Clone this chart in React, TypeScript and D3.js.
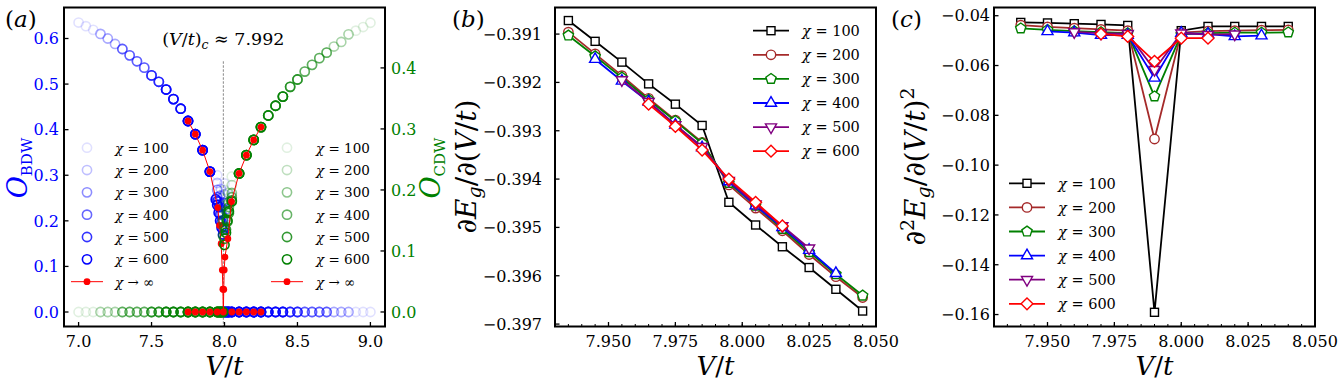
import * as d3 from "d3";

const FONT = "'DejaVu Serif', serif";
const W = 1341;
const H = 387;
const TOP = 7.5;
const BOTTOM = 326.5;

// ---------- panel (a): order parameters ----------
const chiValues = [100, 200, 300, 400, 500, 600];
const chiAlpha = [0.12, 0.25, 0.45, 0.6, 0.8, 1.0];
const chiVMin = [7.0, 7.15, 7.3, 7.5, 7.6, 7.75];
const chiVMax = [9.0, 8.85, 8.7, 8.5, 8.4, 8.25];

const vLeft = [7.0, 7.05, 7.1, 7.15, 7.2, 7.25, 7.3, 7.35, 7.4, 7.45, 7.5, 7.55, 7.6, 7.65, 7.7, 7.75, 7.8, 7.85, 7.9];
const vRight = [8.1, 8.15, 8.2, 8.25, 8.3, 8.35, 8.4, 8.45, 8.5, 8.55, 8.6, 8.65, 8.7, 8.75, 8.8, 8.85, 8.9, 8.95, 9.0];
const bdwVal = [0.635, 0.627, 0.619, 0.61, 0.6, 0.588, 0.577, 0.563, 0.55, 0.536, 0.519, 0.505, 0.488, 0.467, 0.446, 0.419, 0.39, 0.355, 0.308];
const cdwVal = [0.227, 0.257, 0.282, 0.303, 0.322, 0.338, 0.353, 0.369, 0.381, 0.394, 0.405, 0.416, 0.425, 0.435, 0.4425, 0.455, 0.461, 0.467, 0.474];

// points close to the transition, one list per chi
const bdwNearV = [
  [7.95, 8.0, 8.05],
  [7.95, 7.975, 8.0, 8.025, 8.05],
  [7.95, 7.97, 7.99, 8.01, 8.03, 8.05],
  [7.95, 7.96, 7.97, 7.98, 7.99, 8.0, 8.01, 8.03, 8.05],
  [7.95, 7.96, 7.97, 7.98, 7.99, 8.0, 8.01, 8.02, 8.03, 8.05],
  [7.94, 7.95, 7.96, 7.97, 7.98, 7.99, 8.0, 8.01, 8.02, 8.03, 8.05],
];
const bdwNearVal = [
  [0.3, 0.282, 0.255],
  [0.283, 0.27, 0.258, 0.24, 0],
  [0.268, 0.255, 0.24, 0.225, 0, 0],
  [0.252, 0.242, 0.23, 0.215, 0.2, 0.185, 0, 0, 0],
  [0.243, 0.23, 0.214, 0.198, 0.18, 0, 0, 0, 0, 0],
  [0.247, 0.235, 0.218, 0.2, 0.185, 0.17, 0, 0, 0, 0, 0],
];
const cdwNearV = [
  [7.95, 8.0, 8.05],
  [7.95, 7.975, 8.0, 8.025, 8.05],
  [7.95, 7.97, 7.99, 8.01, 8.03, 8.05],
  [7.95, 7.97, 7.98, 7.99, 8.0, 8.01, 8.02, 8.03, 8.05],
  [7.95, 7.96, 7.97, 7.98, 7.99, 8.0, 8.01, 8.02, 8.03, 8.05],
  [7.95, 7.96, 7.97, 7.98, 7.99, 8.0, 8.01, 8.02, 8.03, 8.05],
];
const cdwNearVal = [
  [0, 0.2, 0.222],
  [0, 0, 0.175, 0.195, 0.208],
  [0, 0, 0.15, 0.165, 0.18, 0.195],
  [0, 0, 0, 0.125, 0.14, 0.152, 0.163, 0.172, 0.188],
  [0, 0, 0, 0, 0, 0.12, 0.135, 0.148, 0.162, 0.183],
  [0, 0, 0, 0, 0, 0.11, 0.13, 0.15, 0.165, 0.181],
];

// chi -> infinity extrapolation
const bdwInfV = [7.75, 7.8, 7.85, 7.9, 7.954, 7.966, 7.977, 7.985, 7.989, 7.992, 8.0, 8.05, 8.1, 8.15, 8.2, 8.25];
const bdwInfVal = [0.419, 0.39, 0.355, 0.308, 0.229, 0.19, 0.15, 0.092, 0.05, 0, 0, 0, 0, 0, 0, 0];
const cdwInfV = [7.75, 7.8, 7.85, 7.9, 7.95, 7.992, 7.995, 7.998, 8.003, 8.023, 8.048, 8.1, 8.15, 8.2, 8.25];
const cdwInfVal = [0, 0, 0, 0, 0, 0, 0.037, 0.069, 0.09, 0.12, 0.181, 0.227, 0.257, 0.282, 0.303];
const criticalV = 7.992;

// ---------- panels (b) and (c) ----------
const seriesColors = ["#000000", "#a52a2a", "#008000", "#0000ff", "#800080", "#ff0000"];
const seriesMarkers = ["square", "circle", "pentagon", "triUp", "triDown", "diamond"];

const d1V = [
  [7.935, 7.945, 7.955, 7.965, 7.975, 7.985, 7.995, 8.005, 8.015, 8.025, 8.035, 8.045],
  [7.935, 7.945, 7.955, 7.965, 7.975, 7.985, 7.995, 8.005, 8.015, 8.025, 8.035, 8.045],
  [7.935, 7.945, 7.955, 7.965, 7.975, 7.985, 7.995, 8.005, 8.015, 8.025, 8.035, 8.045],
  [7.945, 7.955, 7.965, 7.975, 7.985, 7.995, 8.005, 8.015, 8.025, 8.035],
  [7.955, 7.965, 7.975, 7.985, 7.995, 8.005, 8.015, 8.025],
  [7.965, 7.975, 7.985, 7.995, 8.005, 8.015],
];
const d1E = [
  [-0.39072, -0.39115, -0.39158, -0.39203, -0.39245, -0.39289, -0.39448, -0.39495, -0.3954, -0.39583, -0.39628, -0.39673],
  [-0.39096, -0.39141, -0.39186, -0.39233, -0.39278, -0.39324, -0.39412, -0.3946, -0.39507, -0.39556, -0.39602, -0.39645],
  [-0.39103, -0.39146, -0.3919, -0.39236, -0.3928, -0.39326, -0.39408, -0.39455, -0.39503, -0.39551, -0.39597, -0.39641],
  [-0.39152, -0.39197, -0.3924, -0.39288, -0.39335, -0.39405, -0.39455, -0.395, -0.39547, -0.39595],
  [-0.39195, -0.3924, -0.39288, -0.39333, -0.39403, -0.39452, -0.39497, -0.39543],
  [-0.39245, -0.39291, -0.3934, -0.394, -0.39448, -0.39497],
];

const d2V = [
  [7.94, 7.95, 7.96, 7.97, 7.98, 7.99, 8.0, 8.01, 8.02, 8.03, 8.04],
  [7.94, 7.95, 7.96, 7.97, 7.98, 7.99, 8.0, 8.01, 8.02, 8.03, 8.04],
  [7.94, 7.95, 7.96, 7.97, 7.98, 7.99, 8.0, 8.01, 8.02, 8.03, 8.04],
  [7.95, 7.96, 7.97, 7.98, 7.99, 8.0, 8.01, 8.02, 8.03],
  [7.96, 7.97, 7.98, 7.99, 8.0, 8.01, 8.02],
  [7.97, 7.98, 7.99, 8.0, 8.01],
];
const d2E = [
  [-0.0427, -0.0429, -0.0432, -0.0435, -0.0439, -0.1591, -0.046, -0.0443, -0.0443, -0.0443, -0.0443],
  [-0.0438, -0.0445, -0.045, -0.0455, -0.046, -0.0895, -0.0468, -0.0462, -0.046, -0.0458, -0.0457],
  [-0.0451, -0.0457, -0.0462, -0.0466, -0.047, -0.0724, -0.0475, -0.047, -0.0468, -0.0468, -0.0467],
  [-0.0463, -0.0468, -0.0478, -0.0478, -0.065, -0.047, -0.0474, -0.0483, -0.048],
  [-0.0465, -0.047, -0.0472, -0.0617, -0.047, -0.0476, -0.0474],
  [-0.0473, -0.0483, -0.0583, -0.049, -0.049],
];

type Pt = { v: number; y: number };
const zip = (vs: number[], ys: number[]): Pt[] => vs.map((v, i) => ({ v, y: ys[i] }));

function poly(n: number, r: number, rot: number) {
  const pts = d3.range(n).map((k) => {
    const a = rot + (2 * Math.PI * k) / n;
    return [r * Math.sin(a), -r * Math.cos(a)];
  });
  return "M" + pts.map((p) => p[0].toFixed(2) + "," + p[1].toFixed(2)).join("L") + "Z";
}

function Marker({ kind, x, y, color }: { kind: string; x: number; y: number; color: string }) {
  const common = { fill: "#fff", stroke: color, strokeWidth: 1.4 };
  if (kind === "square") return <rect x={x - 4} y={y - 4} width={8} height={8} {...common} />;
  if (kind === "circle") return <circle cx={x} cy={y} r={4.7} {...common} />;
  const d =
    kind === "pentagon" ? poly(5, 5.4, 0)
    : kind === "triUp" ? poly(3, 6.4, 0)
    : kind === "triDown" ? poly(3, 6.4, Math.PI)
    : poly(4, 5.9, 0);
  return <path d={d} transform={`translate(${x},${y})`} {...common} />;
}

function Chi({ value }: { value: string }) {
  return (
    <>
      <tspan fontStyle="italic">χ</tspan>
      <tspan> = {value}</tspan>
    </>
  );
}

function Frame({ left, right }: { left: number; right: number }) {
  return (
    <rect x={left} y={TOP} width={right - left} height={BOTTOM - TOP} fill="none" stroke="#000" strokeWidth={2} />
  );
}

function XTicks({ x, ticks, fmt, minor }: { x: d3.ScaleLinear<number, number>; ticks: number[]; fmt: (n: number) => string; minor?: number[] }) {
  return (
    <g>
      {(minor || []).map((t, i) => (
        <line key={"m" + i} x1={x(t)} x2={x(t)} y1={BOTTOM} y2={BOTTOM - 2.5} stroke="#000" strokeWidth={1} />
      ))}
      {ticks.map((t, i) => (
        <g key={i}>
          <line x1={x(t)} x2={x(t)} y1={BOTTOM} y2={BOTTOM - 4.5} stroke="#000" strokeWidth={1.3} />
          <text x={x(t)} y={346.5} textAnchor="middle" fontSize={16}>{fmt(t)}</text>
        </g>
      ))}
    </g>
  );
}

function YTicks({ y, at, ticks, fmt, side, gap, color }: { y: d3.ScaleLinear<number, number>; at: number; ticks: number[]; fmt: (n: number) => string; side: "left" | "right"; gap: number; color: string }) {
  const dir = side === "left" ? 1 : -1;
  return (
    <g>
      {ticks.map((t, i) => (
        <g key={i}>
          <line x1={at} x2={at + dir * 4.5} y1={y(t)} y2={y(t)} stroke="#000" strokeWidth={1.3} />
          <text
            x={side === "left" ? at - gap : at + gap}
            y={y(t)}
            dy="0.36em"
            textAnchor={side === "left" ? "end" : "start"}
            fontSize={16}
            fill={color}
          >
            {fmt(t)}
          </text>
        </g>
      ))}
    </g>
  );
}

function XLabel({ cx }: { cx: number }) {
  return (
    <text x={cx} y={375} textAnchor="middle" fontSize={26}>
      <tspan fontStyle="italic">V</tspan>/<tspan fontStyle="italic">t</tspan>
    </text>
  );
}

function PanelA() {
  const left = 64;
  const right = 385;
  const x = d3.scaleLinear().domain([6.9, 9.1]).range([left, right]);
  const yL = d3.scaleLinear().domain([-0.0318, 0.668]).range([BOTTOM, TOP]);
  const yR = d3.scaleLinear().domain([-0.0238, 0.499]).range([BOTTOM, TOP]);

  const bdwSeries = chiValues.map((_, i) => [
    ...zip(vLeft, bdwVal).filter((p) => p.v >= chiVMin[i] - 1e-9),
    ...zip(bdwNearV[i], bdwNearVal[i]),
    ...vRight.filter((v) => v <= chiVMax[i] + 1e-9).map((v) => ({ v, y: 0 })),
  ]);
  const cdwSeries = chiValues.map((_, i) => [
    ...vLeft.filter((v) => v >= chiVMin[i] - 1e-9).map((v) => ({ v, y: 0 })),
    ...zip(cdwNearV[i], cdwNearVal[i]),
    ...zip(vRight, cdwVal).filter((p) => p.v <= chiVMax[i] + 1e-9),
  ]);
  const bdwInf = zip(bdwInfV, bdwInfVal);
  const cdwInf = zip(cdwInfV, cdwInfVal);
  const lineL = d3.line<Pt>().x((d) => x(d.v)).y((d) => yL(d.y));
  const lineR = d3.line<Pt>().x((d) => x(d.v)).y((d) => yR(d.y));
  const f1 = d3.format(".1f");
  const rowY = (k: number) => 147.7 + k * 22.33;

  return (
    <g>
      <line x1={x(criticalV)} x2={x(criticalV)} y1={yL(0.55)} y2={BOTTOM} stroke="#888" strokeWidth={1} strokeDasharray="2.5,1.5" />
      {bdwSeries.map((s, i) => (
        <g key={i}>
          {s.map((p, j) => (
            <circle key={j} cx={x(p.v)} cy={yL(p.y)} r={4.6} fill="none" stroke="#0000ff" strokeOpacity={chiAlpha[i]} strokeWidth={1.6} />
          ))}
        </g>
      ))}
      <path d={lineL(bdwInf) || ""} fill="none" stroke="#ff0000" strokeWidth={1} />
      {bdwInf.map((p, j) => (
        <circle key={j} cx={x(p.v)} cy={yL(p.y)} r={3.4} fill="#ff0000" />
      ))}
      {cdwSeries.map((s, i) => (
        <g key={i}>
          {s.map((p, j) => (
            <circle key={j} cx={x(p.v)} cy={yR(p.y)} r={4.6} fill="none" stroke="#008000" strokeOpacity={chiAlpha[i]} strokeWidth={1.6} />
          ))}
        </g>
      ))}
      <path d={lineR(cdwInf) || ""} fill="none" stroke="#ff0000" strokeWidth={1} />
      {cdwInf.map((p, j) => (
        <circle key={j} cx={x(p.v)} cy={yR(p.y)} r={3.4} fill="#ff0000" />
      ))}

      <text x={x(criticalV)} y={45} textAnchor="middle" fontSize={17.5}>
        (<tspan fontStyle="italic">V</tspan>/<tspan fontStyle="italic">t</tspan>)
        <tspan fontStyle="italic" fontSize={12.5} dy={4}>c</tspan>
        <tspan dy={-4}> ≈ 7.992</tspan>
      </text>

      {/* legends */}
      {[{ mx: 87, tx: 115, color: "#0000ff" }, { mx: 287, tx: 316, color: "#008000" }].map((lg, li) => (
        <g key={li} fontSize={13.5}>
          {chiValues.map((c, k) => (
            <g key={k}>
              <circle cx={lg.mx} cy={rowY(k)} r={4.6} fill="none" stroke={lg.color} strokeOpacity={chiAlpha[k]} strokeWidth={1.6} />
              <text x={lg.tx} y={rowY(k)} dy="0.36em">
                <Chi value={String(c)} />
              </text>
            </g>
          ))}
          <line x1={lg.mx - 16} x2={lg.mx + 16} y1={rowY(6)} y2={rowY(6)} stroke="#ff0000" strokeWidth={1} />
          <circle cx={lg.mx} cy={rowY(6)} r={3.4} fill="#ff0000" />
          <text x={lg.tx} y={rowY(6)} dy="0.36em">
            <tspan fontStyle="italic">χ</tspan> → ∞
          </text>
        </g>
      ))}

      <Frame left={left} right={right} />
      <XTicks x={x} ticks={[7.0, 7.5, 8.0, 8.5, 9.0]} fmt={f1} />
      <YTicks y={yL} at={left} ticks={[0, 0.1, 0.2, 0.3, 0.4, 0.5, 0.6]} fmt={f1} side="left" gap={5} color="#0000ff" />
      <YTicks y={yR} at={right} ticks={[0, 0.1, 0.2, 0.3, 0.4]} fmt={f1} side="right" gap={6} color="#008000" />
      <XLabel cx={(left + right) / 2} />
      <text transform="translate(27,168) rotate(-90)" textAnchor="middle" fontSize={27} fill="#0000ff">
        <tspan fontStyle="italic">O</tspan>
        <tspan fontSize={15} dy={5}>BDW</tspan>
      </text>
      <text transform="translate(440,168) rotate(-90)" textAnchor="middle" fontSize={27} fill="#008000">
        <tspan fontStyle="italic">O</tspan>
        <tspan fontSize={15} dy={5}>CDW</tspan>
      </text>
      <text x={5} y={27} fontSize={23}>
        (<tspan fontStyle="italic">a</tspan>)
      </text>
    </g>
  );
}

function SeriesPanel({
  left, right, yDomain, yTicks, yFmt, vs, es, gap, legendX, legendY, label, tag,
}: {
  left: number; right: number; yDomain: number[]; yTicks: number[]; yFmt: (n: number) => string;
  vs: number[][]; es: number[][]; gap: number; legendX: number; legendY: number; label: JSX.Element; tag: string;
}) {
  const x = d3.scaleLinear().domain([7.93, 8.05]).range([left, right]);
  const y = d3.scaleLinear().domain(yDomain).range([BOTTOM, TOP]);
  const line = d3.line<Pt>().x((d) => x(d.v)).y((d) => y(d.y));
  const f3 = d3.format(".3f");
  const minor = d3.range(7.935, 8.0501, 0.005);
  return (
    <g>
      {vs.map((v, i) => {
        const pts = zip(v, es[i]);
        return (
          <g key={i}>
            <path d={line(pts) || ""} fill="none" stroke={seriesColors[i]} strokeWidth={1.8} />
            {pts.map((p, j) => (
              <Marker key={j} kind={seriesMarkers[i]} x={x(p.v)} y={y(p.y)} color={seriesColors[i]} />
            ))}
          </g>
        );
      })}
      <g fontSize={14.5}>
        {chiValues.map((c, k) => {
          const ly = legendY + k * 24.1;
          return (
            <g key={k}>
              <line x1={legendX} x2={legendX + 36} y1={ly} y2={ly} stroke={seriesColors[k]} strokeWidth={1.8} />
              <Marker kind={seriesMarkers[k]} x={legendX + 18} y={ly} color={seriesColors[k]} />
              <text x={legendX + 49} y={ly} dy="0.36em">
                <Chi value={String(c)} />
              </text>
            </g>
          );
        })}
      </g>
      <Frame left={left} right={right} />
      <XTicks x={x} ticks={[7.95, 7.975, 8.0, 8.025, 8.05]} fmt={f3} minor={minor} />
      <YTicks y={y} at={left} ticks={yTicks} fmt={yFmt} side="left" gap={gap} color="#000" />
      <XLabel cx={(left + right) / 2} />
      {label}
      <text x={left - 103} y={27} fontSize={23}>
        (<tspan fontStyle="italic">{tag}</tspan>)
      </text>
    </g>
  );
}

export default function App() {
  return (
    <svg width={W} height={H} style={{ position: "absolute", left: 0, top: 0, background: "#fff" }} fontFamily={FONT}>
      <PanelA />
      <SeriesPanel
        left={555}
        right={876}
        yDomain={[-0.39705, -0.39045]}
        yTicks={[-0.391, -0.392, -0.393, -0.394, -0.395, -0.396, -0.397]}
        yFmt={d3.format(".3f")}
        vs={d1V}
        es={d1E}
        gap={13}
        legendX={753}
        legendY={30.7}
        tag="b"
        label={
          <text transform="translate(476,166.5) rotate(-90)" textAnchor="middle" fontSize={28}>
            ∂<tspan fontStyle="italic">E</tspan>
            <tspan fontStyle="italic" fontSize={19} dy={5}>g</tspan>
            <tspan dy={-5}>/∂(</tspan>
            <tspan fontStyle="italic">V</tspan>/<tspan fontStyle="italic">t</tspan>)
          </text>
        }
      />
      <SeriesPanel
        left={994}
        right={1315}
        yDomain={[-0.1648, -0.0367]}
        yTicks={[-0.04, -0.06, -0.08, -0.1, -0.12, -0.14, -0.16]}
        yFmt={d3.format(".2f")}
        vs={d2V}
        es={d2E}
        gap={4}
        legendX={1009}
        legendY={183.3}
        tag="c"
        label={
          <text transform="translate(925,166.5) rotate(-90)" textAnchor="middle" fontSize={28}>
            ∂<tspan fontSize={19} dy={-11}>2</tspan>
            <tspan fontStyle="italic" dy={11}>E</tspan>
            <tspan fontStyle="italic" fontSize={19} dy={5}>g</tspan>
            <tspan dy={-5}>/∂(</tspan>
            <tspan fontStyle="italic">V</tspan>/<tspan fontStyle="italic">t</tspan>)
            <tspan fontSize={19} dy={-11}>2</tspan>
          </text>
        }
      />
    </svg>
  );
}
